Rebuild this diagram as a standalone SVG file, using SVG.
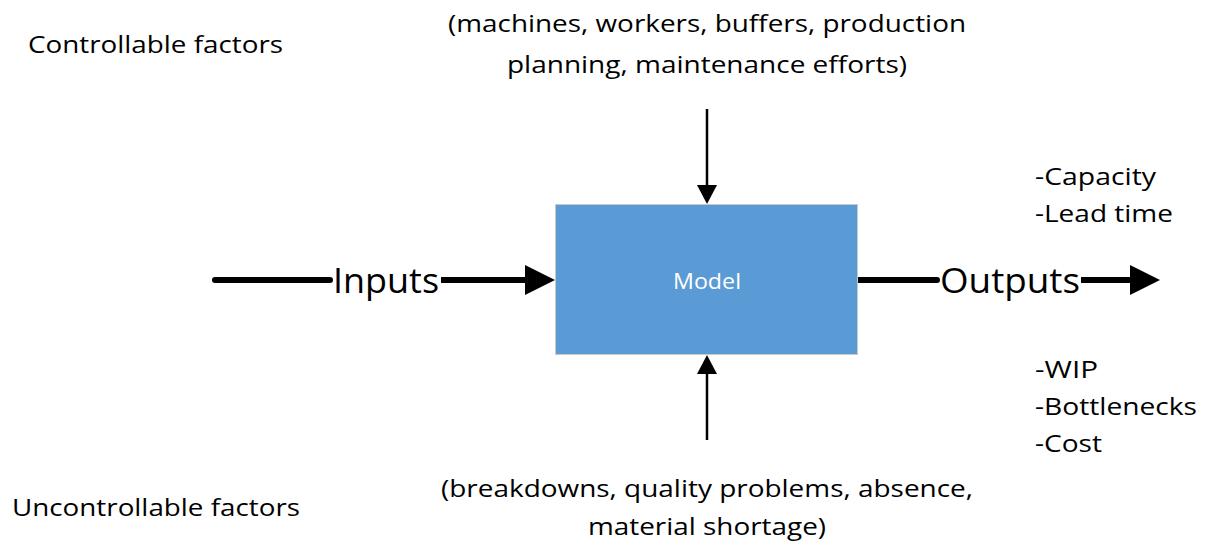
<svg xmlns="http://www.w3.org/2000/svg" width="1207" height="544" viewBox="0 0 1207 544">
  <style>
    .t { font-family: "Open Sans", "Noto Sans", "Liberation Sans", sans-serif; fill: #000; }
    .lbl { font-size: 23px; }
    .big { font-size: 34px; }
    .thick { stroke: #000; stroke-width: 6; stroke-linecap: round; fill: none; }
    .thick-end { stroke: #000; stroke-width: 6; stroke-linecap: butt; fill: none; }
    .thin { stroke: #000; stroke-width: 2.5; fill: none; }
  </style>
  <defs>
    <!-- large head: tip 25px past the line end -->
    <marker id="headBig" viewBox="0 0 30 30" refX="5" refY="15" markerWidth="30" markerHeight="30" markerUnits="userSpaceOnUse" orient="auto">
      <path d="M0,0 L30,15 L0,30 Z" fill="#000"/>
    </marker>
    <marker id="headSmall" viewBox="0 0 19 20" refX="4" refY="10" markerWidth="19" markerHeight="20" markerUnits="userSpaceOnUse" orient="auto">
      <path d="M0,0 L19,10 L0,20 Z" fill="#000"/>
    </marker>
  </defs>

  <rect width="1207" height="544" fill="#fff"/>

  <!-- connectors -->
  <g id="connectors">
    <line class="thick" x1="215" y1="280" x2="330" y2="280"/>
    <line class="thick-end" x1="441" y1="280" x2="530" y2="280" marker-end="url(#headBig)"/>
    <line class="thick" x1="858" y1="280" x2="937" y2="280"/>
    <line class="thick-end" x1="1081" y1="280" x2="1135" y2="280" marker-end="url(#headBig)"/>
    <line class="thin" x1="707" y1="109" x2="707" y2="189" marker-end="url(#headSmall)"/>
    <line class="thin" x1="707" y1="440" x2="707" y2="370" marker-end="url(#headSmall)"/>
  </g>

  <!-- central model block -->
  <g id="model">
    <rect x="555.5" y="204.5" width="302" height="150" fill="#5B9BD5" stroke="#c9c9c9" stroke-width="1"/>
    <text class="t" x="707" y="289" font-size="22" style="fill:#fff" text-anchor="middle" textLength="68" lengthAdjust="spacingAndGlyphs">Model</text>
  </g>

  <g id="inputs">
    <text class="t big" x="333" y="293" textLength="106" lengthAdjust="spacingAndGlyphs">Inputs</text>
  </g>

  <g id="outputs">
    <text class="t big" x="940" y="293" textLength="140" lengthAdjust="spacingAndGlyphs">Outputs</text>
  </g>

  <g id="controllable">
    <text class="t lbl" x="28" y="53" textLength="255" lengthAdjust="spacingAndGlyphs">Controllable factors</text>
  </g>

  <g id="controllable-list">
    <text class="t lbl" x="707" y="32" text-anchor="middle" textLength="518" lengthAdjust="spacingAndGlyphs">(machines, workers, buffers, production</text>
    <text class="t lbl" x="707" y="73" text-anchor="middle" textLength="400" lengthAdjust="spacingAndGlyphs">planning, maintenance efforts)</text>
  </g>

  <g id="uncontrollable">
    <text class="t lbl" x="12" y="516" textLength="288" lengthAdjust="spacingAndGlyphs">Uncontrollable factors</text>
  </g>

  <g id="uncontrollable-list">
    <text class="t lbl" x="707" y="497" text-anchor="middle" textLength="532" lengthAdjust="spacingAndGlyphs">(breakdowns, quality problems, absence,</text>
    <text class="t lbl" x="707" y="535" text-anchor="middle" textLength="238" lengthAdjust="spacingAndGlyphs">material shortage)</text>
  </g>

  <g id="output-measures">
    <text class="t lbl" x="1035" y="185" textLength="121" lengthAdjust="spacingAndGlyphs">-Capacity</text>
    <text class="t lbl" x="1035" y="222" textLength="138" lengthAdjust="spacingAndGlyphs">-Lead time</text>
    <text class="t lbl" x="1035" y="378" textLength="63" lengthAdjust="spacingAndGlyphs">-WIP</text>
    <text class="t lbl" x="1035" y="415" textLength="162" lengthAdjust="spacingAndGlyphs">-Bottlenecks</text>
    <text class="t lbl" x="1035" y="452" textLength="67" lengthAdjust="spacingAndGlyphs">-Cost</text>
  </g>
</svg>
